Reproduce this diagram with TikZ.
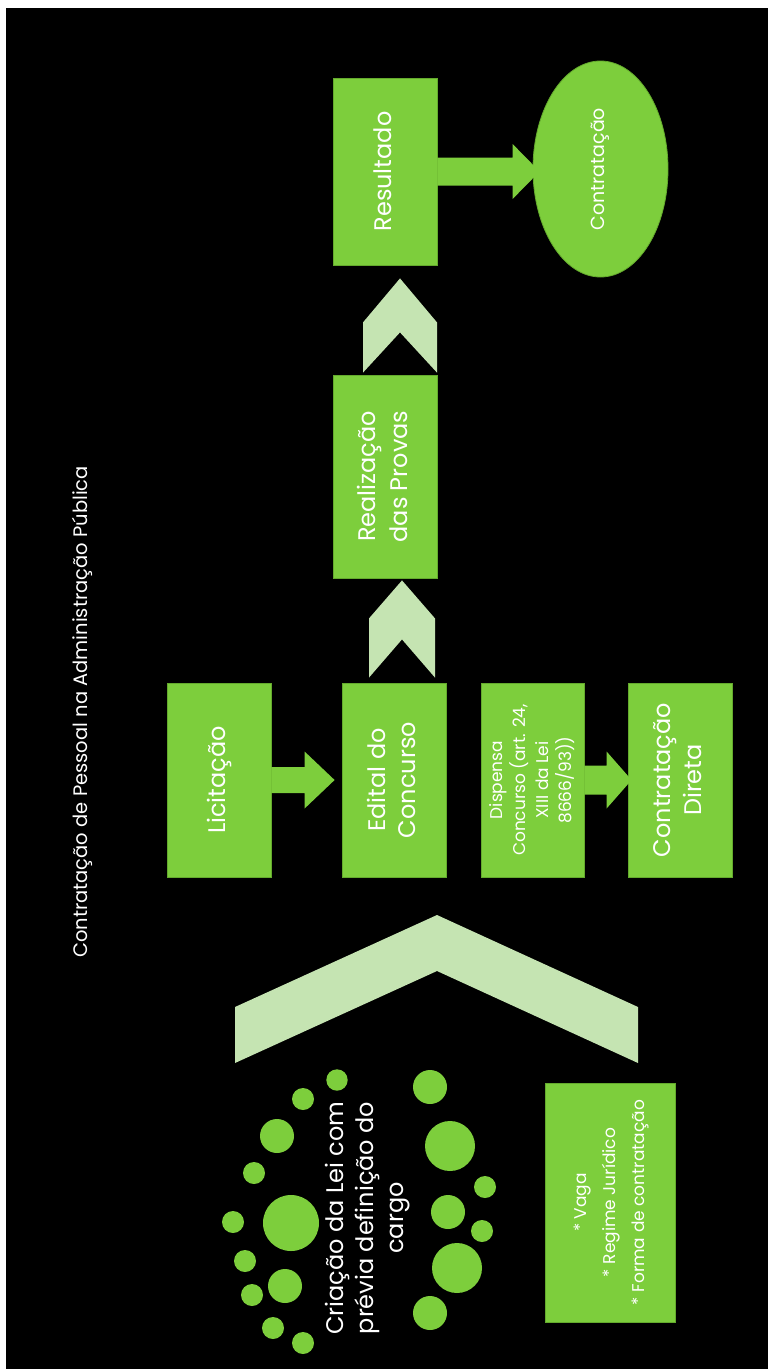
\documentclass[tikz,border=0pt]{standalone}
\usepackage{fontspec}
\setmainfont{Poppins}
\usetikzlibrary{calc,shapes.geometric}
\definecolor{gr}{RGB}{125,206,60}
\definecolor{grdark}{RGB}{100,170,45}
\definecolor{lgr}{RGB}{197,228,178}
\tikzset{
  box/.style={fill=gr, draw=grdark, line width=0.8pt, inner sep=0pt, text=white},
  arrowfill/.style={fill=gr},
  chevfill/.style={fill=lgr},
  dot/.style={fill=gr},
  lbl/.style={text=white, inner sep=0pt}
}
\newcommand{\rt}[3]{\rotatebox{90}{\fontsize{#1}{#2}\selectfont\begin{tabular}{@{}c@{}}#3\end{tabular}}}
% block arrow: from node, to node, shaft half, head half, head length, tip offset from target west
\newcommand{\blockarrow}[6]{%
  \fill[arrowfill] let \p1=(#1.east), \p2=($(#2.west)+(#6,0)$) in
  (\x1,{\y1+#3pt}) -- ({\x2-#5pt},{\y1+#3pt}) -- ({\x2-#5pt},{\y1+#4pt}) -- (\x2,\y1)
  -- ({\x2-#5pt},{\y1-#4pt}) -- ({\x2-#5pt},{\y1-#3pt}) -- (\x1,{\y1-#3pt}) -- cycle;}
% chevron: lower node, upper node, cx, half width, tip gap, bottom gap, corner drop, notch drop
\newcommand{\chev}[8]{%
  \fill[chevfill] let \p1=(#1.north), \p2=(#2.south) in
  ({#3pt},{\y2-#5pt}) -- ({#3pt+#4pt},{\y2-#5pt-#7pt}) -- ({#3pt+#4pt},{\y1+#6pt})
  -- ({#3pt},{\y2-#5pt-#8pt}) -- ({#3pt-#4pt},{\y1+#6pt}) -- ({#3pt-#4pt},{\y2-#5pt-#7pt}) -- cycle;}
\begin{document}
\begin{tikzpicture}[x=1pt,y=-1pt]
\useasboundingbox (0,0) rectangle (768,1369);
\fill[white] (0,0) rectangle (768,1369);
\fill[black] (6,8) rectangle (768,1369);

% title
\node[lbl] (title) at (82,712) {\rotatebox{90}{\fontsize{19.5}{22}\selectfont Contratação de Pessoal na Administração Pública}};

% boxes
\node[box, minimum width=104pt, minimum height=194pt] (lic) at (219,780) {\rt{24}{30}{Licitação}};
\node[box, minimum width=104pt, minimum height=194pt] (edi) at (394,780) {\rt{24}{30}{Edital do\\Concurso}};
\node[box, minimum width=103pt, minimum height=194pt] (dis) at (532.5,780) {\rt{17}{23}{Dispensa\\Concurso (art. 24,\\XIII da Lei\\8666/93))}};
\node[box, minimum width=104pt, minimum height=194pt] (dir) at (680,780) {\rt{24}{31}{Contratação\\Direta}};
\node[box, minimum width=104pt, minimum height=203pt] (real) at (385,476.5) {\rt{24}{32}{Realização\\das Provas}};
\node[box, minimum width=104pt, minimum height=187pt] (res) at (385,171.5) {\rt{24}{30}{Resultado}};
\node[ellipse, fill=gr, draw=grdark, line width=0.8pt, text=white, inner sep=0pt, minimum width=135pt, minimum height=216pt] (ell) at (600.5,169) {\rt{19}{20}{Contratação}};
\node[box, minimum width=130pt, minimum height=239pt] (vaga) at (610,1202.5) {\rt{17}{29}{* Vaga\\{}* Regime Jurídico\\{}* Forma de contratação}};

% block arrows
\blockarrow{lic}{edi}{13}{28.5}{30}{-7}
\blockarrow{dis}{dir}{14.5}{28.5}{25}{4}
\blockarrow{res}{ell}{14}{27.5}{27}{7}

% chevrons
\chev{edi}{real}{402}{33}{2}{5}{38}{59}
\chev{real}{res}{400}{37}{13}{2}{44}{54}
\fill[chevfill] (437,915) -- (638,1007) -- (638,1063) -- (437,971) -- (235,1063) -- (235,1007) -- cycle;

% dots
\foreach \cx/\cy/\r in {337/1080/10.7, 303/1099/11, 277/1136/17, 254/1173/11, 291/1223/28, 233/1222/11, 245/1261/11, 285/1286/17, 252/1295/11, 273/1328/11, 303/1343/11, 430/1087/17, 450/1146/25, 485/1187/11, 448/1212/17, 482/1231/11, 457/1268/25, 430/1313/17}
  \fill[dot] (\cx,\cy) circle[radius=\r pt];

\node[lbl] (cri) at (367,1218) {\rt{24}{30}{Criação da Lei com\\prévia definição do\\cargo}};
\end{tikzpicture}
\end{document}
